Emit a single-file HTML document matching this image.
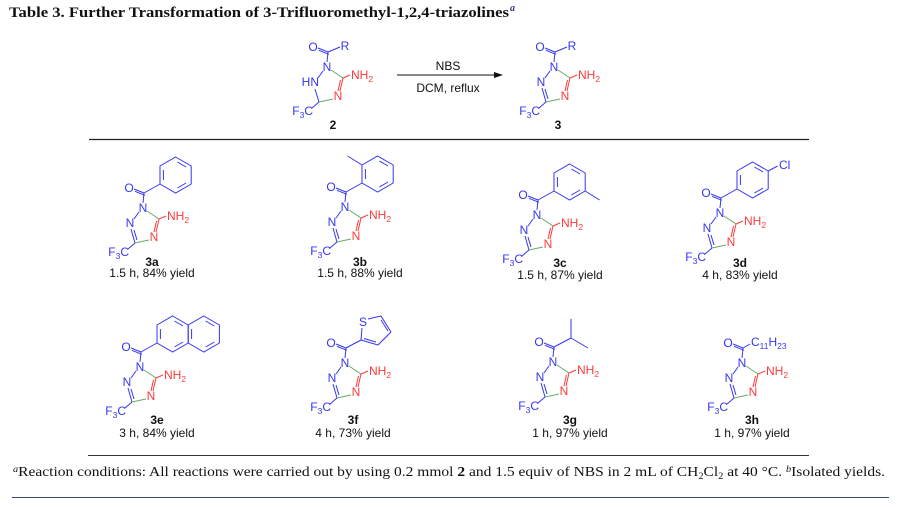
<!DOCTYPE html>
<html><head><meta charset="utf-8"><style>
html,body{margin:0;padding:0;background:#fff;}
svg{display:block;}
.s{font-family:"Liberation Sans",Arial,sans-serif;font-size:12px;}
.b{stroke:#3636f0;stroke-width:1;fill:none;}
.r{stroke:#ff3a3a;stroke-width:1;fill:none;}
.g{stroke:#6aa86a;stroke-width:1;fill:none;}
.tb{fill:#3636f0;}
.tr{fill:#ff3a3a;}
.k{fill:#111;}
</style></head><body>
<svg width="897" height="507" viewBox="0 0 897 507" xmlns="http://www.w3.org/2000/svg">
<text x="9" y="17" font-family="Liberation Serif,serif" font-weight="bold" font-size="15" fill="#111" textLength="500" lengthAdjust="spacingAndGlyphs">Table 3. Further Transformation of 3-Trifluoromethyl-1,2,4-triazolines</text>
<text x="510" y="11" font-family="Liberation Serif,serif" font-style="italic" font-weight="bold" font-size="10" fill="#2a3a8a">a</text>

<!-- compound 2 -->
<g transform="translate(327,67)" class="s">
<line class="b" x1="0" y1="-5" x2="1" y2="-15"/><line class="b" x1="1" y1="-15" x2="-9" y2="-19"/><line class="b" x1="1.9" y1="-12.7" x2="-8.1" y2="-16.7"/>
<line class="b" x1="1" y1="-15" x2="13" y2="-20"/>
<line class="b" x1="-9" y1="11" x2="-4" y2="4"/>
<line class="b" x1="-12" y1="22" x2="-8" y2="35"/>
<line class="b" x1="-8" y1="35" x2="-15" y2="41"/>
<line class="g" x1="4" y1="3" x2="16" y2="11"/><line class="g" x1="6" y1="32" x2="-8" y2="35"/>
<line class="r" x1="16" y1="11" x2="23" y2="8"/><line class="r" x1="16" y1="11" x2="13" y2="24"/><line class="r" x1="13.5" y1="13" x2="11" y2="24"/>
<text class="tb" x="0" y="4" text-anchor="middle">N</text>
<text class="tb" x="-8" y="19" text-anchor="end">HN</text>
<text class="tr" x="11" y="33" text-anchor="middle">N</text>
<text class="tb" x="-14" y="-16" text-anchor="middle">O</text>
<text class="tb" x="18" y="-17" text-anchor="middle">R</text>
<text class="tr" x="24" y="12">NH<tspan font-size="8.5" dy="3">2</tspan></text>
<text class="tb" x="-14" y="48" text-anchor="end">F<tspan font-size="8.5" dy="3">3</tspan><tspan dy="-3">C</tspan></text>
</g>
<text x="333" y="129" text-anchor="middle" class="s k" font-weight="bold">2</text>

<!-- arrow -->
<line x1="397" y1="75" x2="496" y2="75" stroke="#111" stroke-width="1"/>
<polygon points="503,75 494,72 494,78" fill="#111"/>
<text x="448" y="70" text-anchor="middle" class="s k">NBS</text>
<text x="448" y="92" text-anchor="middle" class="s k">DCM, reflux</text>

<!-- compound 3 -->
<g transform="translate(554,67)" class="s">
<line class="b" x1="0" y1="-5" x2="1" y2="-15"/><line class="b" x1="1" y1="-15" x2="-9" y2="-19"/><line class="b" x1="1.9" y1="-12.7" x2="-8.1" y2="-16.7"/>
<line class="b" x1="1" y1="-15" x2="13" y2="-20"/>
<line class="b" x1="-9" y1="11" x2="-4" y2="4"/>
<line class="b" x1="-12" y1="21" x2="-8" y2="35"/><line class="b" x1="-9" y1="22" x2="-6" y2="32"/>
<line class="b" x1="-8" y1="35" x2="-15" y2="41"/>
<line class="g" x1="4" y1="3" x2="16" y2="11"/><line class="g" x1="6" y1="32" x2="-8" y2="35"/>
<line class="r" x1="16" y1="11" x2="23" y2="8"/><line class="r" x1="16" y1="11" x2="13" y2="24"/><line class="r" x1="13.5" y1="13" x2="11" y2="24"/>
<text class="tb" x="0" y="4" text-anchor="middle">N</text>
<text class="tb" x="-13" y="19" text-anchor="middle">N</text>
<text class="tr" x="11" y="33" text-anchor="middle">N</text>
<text class="tb" x="-14" y="-16" text-anchor="middle">O</text>
<text class="tb" x="18" y="-17" text-anchor="middle">R</text>
<text class="tr" x="24" y="12">NH<tspan font-size="8.5" dy="3">2</tspan></text>
<text class="tb" x="-14" y="48" text-anchor="end">F<tspan font-size="8.5" dy="3">3</tspan><tspan dy="-3">C</tspan></text>
</g>
<text x="558" y="129" text-anchor="middle" class="s k" font-weight="bold">3</text>

<line x1="89" y1="139.5" x2="809" y2="139.5" stroke="#222" stroke-width="1.2"/>

<!-- 3a -->
<g transform="translate(143,208)" class="s">
<line class="b" x1="0" y1="-5" x2="1" y2="-15"/><line class="b" x1="1" y1="-15" x2="-9" y2="-19"/><line class="b" x1="1.9" y1="-12.7" x2="-8.1" y2="-16.7"/>
<line class="b" x1="-9" y1="11" x2="-4" y2="4"/>
<line class="b" x1="-12" y1="21" x2="-8" y2="35"/><line class="b" x1="-9" y1="22" x2="-6" y2="32"/>
<line class="b" x1="-8" y1="35" x2="-15" y2="41"/>
<line class="g" x1="4" y1="3" x2="16" y2="11"/><line class="g" x1="6" y1="32" x2="-8" y2="35"/>
<line class="r" x1="16" y1="11" x2="23" y2="8"/><line class="r" x1="16" y1="11" x2="13" y2="24"/><line class="r" x1="13.5" y1="13" x2="11" y2="24"/>
<text class="tb" x="0" y="4" text-anchor="middle">N</text>
<text class="tb" x="-13" y="19" text-anchor="middle">N</text>
<text class="tr" x="11" y="33" text-anchor="middle">N</text>
<text class="tb" x="-14" y="-16" text-anchor="middle">O</text>
<text class="tr" x="24" y="12">NH<tspan font-size="8.5" dy="3">2</tspan></text>
<text class="tb" x="-14" y="48" text-anchor="end">F<tspan font-size="8.5" dy="3">3</tspan><tspan dy="-3">C</tspan></text>
<line class="b" x1="1" y1="-15" x2="17" y2="-24"/>
<g transform="translate(32.6,-33)" class="b"><polygon points="0,-18 15.6,-9 15.6,9 0,18 -15.6,9 -15.6,-9"/><line x1="1.8" y1="-13" x2="10.5" y2="-8"/><line x1="10.5" y1="8" x2="1.8" y2="13"/><line x1="-12.2" y1="5" x2="-12.2" y2="-5"/></g>
</g>
<text x="152" y="266" text-anchor="middle" class="s k" font-weight="bold">3a</text>
<text x="152" y="277" text-anchor="middle" class="s k">1.5 h, 84% yield</text>

<!-- 3b -->
<g transform="translate(345,207)" class="s">
<line class="b" x1="0" y1="-5" x2="1" y2="-15"/><line class="b" x1="1" y1="-15" x2="-9" y2="-19"/><line class="b" x1="1.9" y1="-12.7" x2="-8.1" y2="-16.7"/>
<line class="b" x1="-9" y1="11" x2="-4" y2="4"/>
<line class="b" x1="-12" y1="21" x2="-8" y2="35"/><line class="b" x1="-9" y1="22" x2="-6" y2="32"/>
<line class="b" x1="-8" y1="35" x2="-15" y2="41"/>
<line class="g" x1="4" y1="3" x2="16" y2="11"/><line class="g" x1="6" y1="32" x2="-8" y2="35"/>
<line class="r" x1="16" y1="11" x2="23" y2="8"/><line class="r" x1="16" y1="11" x2="13" y2="24"/><line class="r" x1="13.5" y1="13" x2="11" y2="24"/>
<text class="tb" x="0" y="4" text-anchor="middle">N</text>
<text class="tb" x="-13" y="19" text-anchor="middle">N</text>
<text class="tr" x="11" y="33" text-anchor="middle">N</text>
<text class="tb" x="-14" y="-16" text-anchor="middle">O</text>
<text class="tr" x="24" y="12">NH<tspan font-size="8.5" dy="3">2</tspan></text>
<text class="tb" x="-14" y="48" text-anchor="end">F<tspan font-size="8.5" dy="3">3</tspan><tspan dy="-3">C</tspan></text>
<line class="b" x1="1" y1="-15" x2="17" y2="-24"/>
<g transform="translate(32.6,-33)" class="b"><polygon points="0,-18 15.6,-9 15.6,9 0,18 -15.6,9 -15.6,-9"/><line x1="1.8" y1="-13" x2="10.5" y2="-8"/><line x1="10.5" y1="8" x2="1.8" y2="13"/><line x1="-12.2" y1="5" x2="-12.2" y2="-5"/><line x1="-15.6" y1="-9" x2="-30" y2="-18"/></g>
</g>
<text x="360" y="266" text-anchor="middle" class="s k" font-weight="bold">3b</text>
<text x="360" y="277" text-anchor="middle" class="s k">1.5 h, 88% yield</text>

<!-- 3c -->
<g transform="translate(537,215)" class="s">
<line class="b" x1="0" y1="-5" x2="1" y2="-15"/><line class="b" x1="1" y1="-15" x2="-9" y2="-19"/><line class="b" x1="1.9" y1="-12.7" x2="-8.1" y2="-16.7"/>
<line class="b" x1="-9" y1="11" x2="-4" y2="4"/>
<line class="b" x1="-12" y1="21" x2="-8" y2="35"/><line class="b" x1="-9" y1="22" x2="-6" y2="32"/>
<line class="b" x1="-8" y1="35" x2="-15" y2="41"/>
<line class="g" x1="4" y1="3" x2="16" y2="11"/><line class="g" x1="6" y1="32" x2="-8" y2="35"/>
<line class="r" x1="16" y1="11" x2="23" y2="8"/><line class="r" x1="16" y1="11" x2="13" y2="24"/><line class="r" x1="13.5" y1="13" x2="11" y2="24"/>
<text class="tb" x="0" y="4" text-anchor="middle">N</text>
<text class="tb" x="-13" y="19" text-anchor="middle">N</text>
<text class="tr" x="11" y="33" text-anchor="middle">N</text>
<text class="tb" x="-14" y="-16" text-anchor="middle">O</text>
<text class="tr" x="24" y="12">NH<tspan font-size="8.5" dy="3">2</tspan></text>
<text class="tb" x="-14" y="48" text-anchor="end">F<tspan font-size="8.5" dy="3">3</tspan><tspan dy="-3">C</tspan></text>
<line class="b" x1="1" y1="-15" x2="17" y2="-24"/>
<g transform="translate(32.6,-33)" class="b"><polygon points="0,-18 15.6,-9 15.6,9 0,18 -15.6,9 -15.6,-9"/><line x1="1.8" y1="-13" x2="10.5" y2="-8"/><line x1="10.5" y1="8" x2="1.8" y2="13"/><line x1="-12.2" y1="5" x2="-12.2" y2="-5"/><line x1="15.6" y1="9" x2="30" y2="18"/></g>
</g>
<text x="560" y="267" text-anchor="middle" class="s k" font-weight="bold">3c</text>
<text x="560" y="279" text-anchor="middle" class="s k">1.5 h, 87% yield</text>

<!-- 3d -->
<g transform="translate(720,213)" class="s">
<line class="b" x1="0" y1="-5" x2="1" y2="-15"/><line class="b" x1="1" y1="-15" x2="-9" y2="-19"/><line class="b" x1="1.9" y1="-12.7" x2="-8.1" y2="-16.7"/>
<line class="b" x1="-9" y1="11" x2="-4" y2="4"/>
<line class="b" x1="-12" y1="21" x2="-8" y2="35"/><line class="b" x1="-9" y1="22" x2="-6" y2="32"/>
<line class="b" x1="-8" y1="35" x2="-15" y2="41"/>
<line class="g" x1="4" y1="3" x2="16" y2="11"/><line class="g" x1="6" y1="32" x2="-8" y2="35"/>
<line class="r" x1="16" y1="11" x2="23" y2="8"/><line class="r" x1="16" y1="11" x2="13" y2="24"/><line class="r" x1="13.5" y1="13" x2="11" y2="24"/>
<text class="tb" x="0" y="4" text-anchor="middle">N</text>
<text class="tb" x="-13" y="19" text-anchor="middle">N</text>
<text class="tr" x="11" y="33" text-anchor="middle">N</text>
<text class="tb" x="-14" y="-16" text-anchor="middle">O</text>
<text class="tr" x="24" y="12">NH<tspan font-size="8.5" dy="3">2</tspan></text>
<text class="tb" x="-14" y="48" text-anchor="end">F<tspan font-size="8.5" dy="3">3</tspan><tspan dy="-3">C</tspan></text>
<line class="b" x1="1" y1="-15" x2="17" y2="-24"/>
<g transform="translate(32.6,-33)" class="b"><polygon points="0,-18 15.6,-9 15.6,9 0,18 -15.6,9 -15.6,-9"/><line x1="1.8" y1="-13" x2="10.5" y2="-8"/><line x1="10.5" y1="8" x2="1.8" y2="13"/><line x1="-12.2" y1="5" x2="-12.2" y2="-5"/><line x1="15.6" y1="-9" x2="25" y2="-14"/></g>
<text class="tb" x="59" y="-44">Cl</text>
</g>
<text x="740" y="267" text-anchor="middle" class="s k" font-weight="bold">3d</text>
<text x="740" y="279" text-anchor="middle" class="s k">4 h, 83% yield</text>

<!-- 3e -->
<g transform="translate(140,367)" class="s">
<line class="b" x1="0" y1="-5" x2="1" y2="-15"/><line class="b" x1="1" y1="-15" x2="-9" y2="-19"/><line class="b" x1="1.9" y1="-12.7" x2="-8.1" y2="-16.7"/>
<line class="b" x1="-9" y1="11" x2="-4" y2="4"/>
<line class="b" x1="-12" y1="21" x2="-8" y2="35"/><line class="b" x1="-9" y1="22" x2="-6" y2="32"/>
<line class="b" x1="-8" y1="35" x2="-15" y2="41"/>
<line class="g" x1="4" y1="3" x2="16" y2="11"/><line class="g" x1="6" y1="32" x2="-8" y2="35"/>
<line class="r" x1="16" y1="11" x2="23" y2="8"/><line class="r" x1="16" y1="11" x2="13" y2="24"/><line class="r" x1="13.5" y1="13" x2="11" y2="24"/>
<text class="tb" x="0" y="4" text-anchor="middle">N</text>
<text class="tb" x="-13" y="19" text-anchor="middle">N</text>
<text class="tr" x="11" y="33" text-anchor="middle">N</text>
<text class="tb" x="-14" y="-16" text-anchor="middle">O</text>
<text class="tr" x="24" y="12">NH<tspan font-size="8.5" dy="3">2</tspan></text>
<text class="tb" x="-14" y="48" text-anchor="end">F<tspan font-size="8.5" dy="3">3</tspan><tspan dy="-3">C</tspan></text>
<line class="b" x1="1" y1="-15" x2="17" y2="-24"/>
<g transform="translate(32.6,-33)" class="b"><polygon points="0,-18 15.6,-9 15.6,9 0,18 -15.6,9 -15.6,-9"/><line x1="1.8" y1="-13" x2="10.5" y2="-8"/><line x1="10.5" y1="8" x2="1.8" y2="13"/><line x1="-12.2" y1="5" x2="-12.2" y2="-5"/></g>
<g transform="translate(63.8,-33)" class="b"><polygon points="0,-18 15.6,-9 15.6,9 0,18 -15.6,9 -15.6,-9"/><line x1="1.8" y1="-13" x2="10.5" y2="-8"/><line x1="10.5" y1="8" x2="1.8" y2="13"/><line x1="-12.2" y1="5" x2="-12.2" y2="-5"/></g>
</g>
<text x="157" y="424" text-anchor="middle" class="s k" font-weight="bold">3e</text>
<text x="157" y="437" text-anchor="middle" class="s k">3 h, 84% yield</text>

<!-- 3f -->
<g transform="translate(345,363)" class="s">
<line class="b" x1="0" y1="-5" x2="1" y2="-15"/><line class="b" x1="1" y1="-15" x2="-9" y2="-19"/><line class="b" x1="1.9" y1="-12.7" x2="-8.1" y2="-16.7"/>
<line class="b" x1="-9" y1="11" x2="-4" y2="4"/>
<line class="b" x1="-12" y1="21" x2="-8" y2="35"/><line class="b" x1="-9" y1="22" x2="-6" y2="32"/>
<line class="b" x1="-8" y1="35" x2="-15" y2="41"/>
<line class="g" x1="4" y1="3" x2="16" y2="11"/><line class="g" x1="6" y1="32" x2="-8" y2="35"/>
<line class="r" x1="16" y1="11" x2="23" y2="8"/><line class="r" x1="16" y1="11" x2="13" y2="24"/><line class="r" x1="13.5" y1="13" x2="11" y2="24"/>
<text class="tb" x="0" y="4" text-anchor="middle">N</text>
<text class="tb" x="-13" y="19" text-anchor="middle">N</text>
<text class="tr" x="11" y="33" text-anchor="middle">N</text>
<text class="tb" x="-14" y="-16" text-anchor="middle">O</text>
<text class="tr" x="24" y="12">NH<tspan font-size="8.5" dy="3">2</tspan></text>
<text class="tb" x="-14" y="48" text-anchor="end">F<tspan font-size="8.5" dy="3">3</tspan><tspan dy="-3">C</tspan></text>
<line class="b" x1="1" y1="-15" x2="16" y2="-23"/>
<g class="b"><line x1="16" y1="-23" x2="17" y2="-35"/><line x1="23" y1="-44" x2="36" y2="-47"/><line x1="36" y1="-47" x2="46" y2="-31"/><line x1="46" y1="-31" x2="33" y2="-18"/><line x1="33" y1="-18" x2="16" y2="-23"/><line x1="31" y1="-21" x2="19" y2="-24.5"/><line x1="36" y1="-43" x2="43" y2="-32"/></g>
<text class="tb" x="18" y="-37" text-anchor="middle">S</text>
</g>
<text x="353" y="424" text-anchor="middle" class="s k" font-weight="bold">3f</text>
<text x="353" y="437" text-anchor="middle" class="s k">4 h, 73% yield</text>

<!-- 3g -->
<g transform="translate(553,362)" class="s">
<line class="b" x1="0" y1="-5" x2="1" y2="-15"/><line class="b" x1="1" y1="-15" x2="-9" y2="-19"/><line class="b" x1="1.9" y1="-12.7" x2="-8.1" y2="-16.7"/>
<line class="b" x1="-9" y1="11" x2="-4" y2="4"/>
<line class="b" x1="-12" y1="21" x2="-8" y2="35"/><line class="b" x1="-9" y1="22" x2="-6" y2="32"/>
<line class="b" x1="-8" y1="35" x2="-15" y2="41"/>
<line class="g" x1="4" y1="3" x2="16" y2="11"/><line class="g" x1="6" y1="32" x2="-8" y2="35"/>
<line class="r" x1="16" y1="11" x2="23" y2="8"/><line class="r" x1="16" y1="11" x2="13" y2="24"/><line class="r" x1="13.5" y1="13" x2="11" y2="24"/>
<text class="tb" x="0" y="4" text-anchor="middle">N</text>
<text class="tb" x="-13" y="19" text-anchor="middle">N</text>
<text class="tr" x="11" y="33" text-anchor="middle">N</text>
<text class="tb" x="-14" y="-16" text-anchor="middle">O</text>
<text class="tr" x="24" y="12">NH<tspan font-size="8.5" dy="3">2</tspan></text>
<text class="tb" x="-14" y="48" text-anchor="end">F<tspan font-size="8.5" dy="3">3</tspan><tspan dy="-3">C</tspan></text>
<g class="b"><line x1="1" y1="-15" x2="18" y2="-24"/><line x1="18" y1="-24" x2="18" y2="-43"/><line x1="18" y1="-24" x2="35" y2="-14"/></g>
</g>
<text x="570" y="424" text-anchor="middle" class="s k" font-weight="bold">3g</text>
<text x="570" y="437" text-anchor="middle" class="s k">1 h, 97% yield</text>

<!-- 3h -->
<g transform="translate(742,363)" class="s">
<line class="b" x1="0" y1="-5" x2="1" y2="-15"/><line class="b" x1="1" y1="-15" x2="-9" y2="-19"/><line class="b" x1="1.9" y1="-12.7" x2="-8.1" y2="-16.7"/>
<line class="b" x1="-9" y1="11" x2="-4" y2="4"/>
<line class="b" x1="-12" y1="21" x2="-8" y2="35"/><line class="b" x1="-9" y1="22" x2="-6" y2="32"/>
<line class="b" x1="-8" y1="35" x2="-15" y2="41"/>
<line class="g" x1="4" y1="3" x2="16" y2="11"/><line class="g" x1="6" y1="32" x2="-8" y2="35"/>
<line class="r" x1="16" y1="11" x2="23" y2="8"/><line class="r" x1="16" y1="11" x2="13" y2="24"/><line class="r" x1="13.5" y1="13" x2="11" y2="24"/>
<text class="tb" x="0" y="4" text-anchor="middle">N</text>
<text class="tb" x="-13" y="19" text-anchor="middle">N</text>
<text class="tr" x="11" y="33" text-anchor="middle">N</text>
<text class="tb" x="-14" y="-16" text-anchor="middle">O</text>
<text class="tr" x="24" y="12">NH<tspan font-size="8.5" dy="3">2</tspan></text>
<text class="tb" x="-14" y="48" text-anchor="end">F<tspan font-size="8.5" dy="3">3</tspan><tspan dy="-3">C</tspan></text>
<line class="b" x1="1" y1="-15" x2="8" y2="-19"/>
<text class="tb" x="9" y="-17">C<tspan font-size="8.5" dy="3">11</tspan><tspan dy="-3">H</tspan><tspan font-size="8.5" dy="3">23</tspan></text>
</g>
<text x="752" y="424" text-anchor="middle" class="s k" font-weight="bold">3h</text>
<text x="752" y="437" text-anchor="middle" class="s k">1 h, 97% yield</text>

<line x1="88" y1="455.5" x2="809" y2="455.5" stroke="#333" stroke-width="1"/>
<text x="13" y="476" font-family="Liberation Serif,serif" font-size="13.5" fill="#111" textLength="872" lengthAdjust="spacingAndGlyphs"><tspan font-style="italic" font-size="9" dy="-4">a</tspan><tspan dy="4">Reaction conditions: All reactions were carried out by using 0.2 mmol </tspan><tspan font-weight="bold">2</tspan> and 1.5 equiv of NBS in 2 mL of CH<tspan font-size="9" dy="3">2</tspan><tspan dy="-3">Cl</tspan><tspan font-size="9" dy="3">2</tspan><tspan dy="-3"> at 40 °C. </tspan><tspan font-style="italic" font-size="9" dy="-4">b</tspan><tspan dy="4">Isolated yields.</tspan></text>
<line x1="12" y1="497.5" x2="889" y2="497.5" stroke="#3a4a6a" stroke-width="1"/>
</svg>
</body></html>
